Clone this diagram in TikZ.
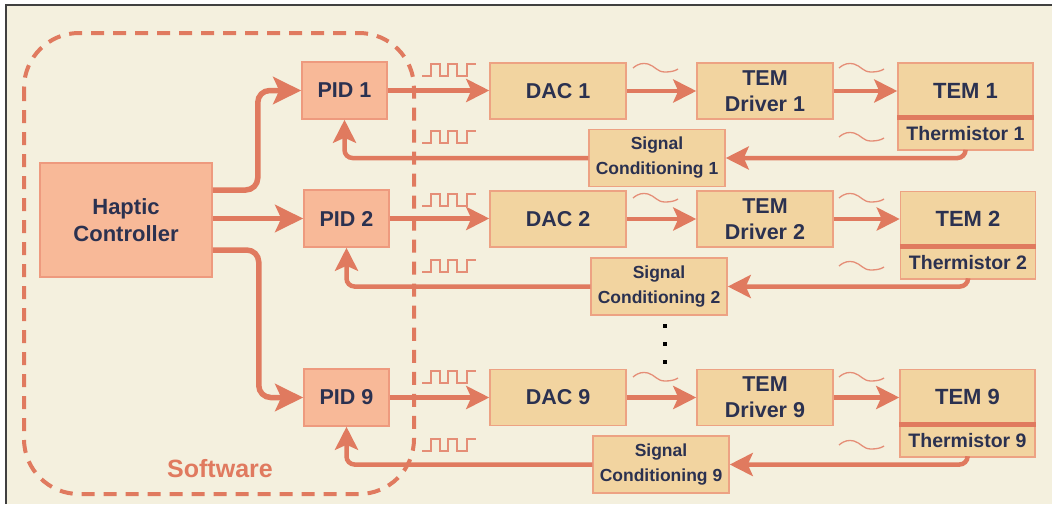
\documentclass[tikz,border=0pt]{standalone}
\usepackage{fontspec}
\setmainfont{Liberation Sans}
\usetikzlibrary{arrows.meta}
\definecolor{bgc}{HTML}{F4F0DE}
\definecolor{coral}{HTML}{E07A5F}
\definecolor{pidfill}{HTML}{F8B998}
\definecolor{pidline}{HTML}{EE9A7E}
\definecolor{tanfill}{HTML}{F2D4A0}
\definecolor{tanline}{HTML}{EDA283}
\definecolor{textc}{HTML}{2B3150}
\definecolor{framec}{HTML}{404040}
\begin{document}
\begin{tikzpicture}[x=1pt,y=-1pt,
  basebox/.style={line width=1.5pt, inner sep=0pt, text=textc, align=center},
  pidb/.style={basebox, draw=pidline, fill=pidfill, minimum width=85pt, minimum height=57pt,
    font=\fontsize{21.5}{26}\selectfont\bfseries},
  hcb/.style={basebox, draw=pidline, fill=pidfill, minimum width=172pt, minimum height=114pt,
    font=\fontsize{22}{26.5}\selectfont\bfseries},
  tanb/.style={basebox, draw=tanline, fill=tanfill, minimum width=136pt, minimum height=56pt,
    font=\fontsize{21.5}{26}\selectfont\bfseries},
  temb/.style={basebox, draw=tanline, fill=tanfill, minimum width=135pt, minimum height=55pt,
    font=\fontsize{22}{26}\selectfont\bfseries},
  thb/.style={basebox, draw=tanline, fill=tanfill, minimum width=135pt, minimum height=32pt,
    font=\fontsize{19.5}{22}\selectfont\bfseries},
  scb/.style={basebox, draw=tanline, fill=tanfill, minimum width=136pt, minimum height=57pt,
    font=\fontsize{17.5}{25}\selectfont\bfseries},
  harr/.style={draw=coral, line width=5.5pt, rounded corners=12pt,
    -{Stealth[length=28pt,width=27pt,inset=6pt]}},
  arr/.style={draw=coral, line width=4.5pt, rounded corners=8pt,
    -{Stealth[length=23pt,width=23pt,inset=5pt]}},
  divider/.style={draw=coral, line width=5pt},
  wave/.style={draw=coral!85, line width=1.3pt, line join=miter},
  sqw/.pic={\draw[wave] (0,0) -- (9,0) -- (9,-12) -- (18,-12) -- (18,0) -- (26,0) -- (26,-12)
    -- (35,-12) -- (35,0) -- (45,0) -- (45,-12) -- (54,-12);},
  tld/.pic={\draw[wave] (0,5) .. controls (6,0) and (10,0) .. (15,1)
    .. controls (22,3) and (24,9) .. (32,9) .. controls (38,9) and (42,8) .. (45,6);}
]
\useasboundingbox (0,0) rectangle (1052,504);
\fill[white] (0,0) rectangle (1052,504);
\fill[bgc] (6,5) rectangle (1052,504);
\draw[framec, line width=1.5pt] (6,504) -- (6,5) -- (1052,5);

% nodes
\node[hcb] (hc) at (126,220) {Haptic\\Controller};
\node[pidb] (pid1) at (344.5,90.5) {PID 1};
\node[pidb] (pid2) at (346.5,218.5) {PID 2};
\node[pidb] (pid9) at (346.5,397.5) {PID 9};

\node[tanb] (dac1) at (558,91) {DAC 1};
\node[tanb] (dac2) at (558,219) {DAC 2};
\node[tanb] (dac9) at (558,397.5) {DAC 9};

\node[tanb] (drv1) at (765,91) {TEM\\Driver 1};
\node[tanb] (drv2) at (765,219) {TEM\\Driver 2};
\node[tanb] (drv9) at (765,397.5) {TEM\\Driver 9};

\node[temb] (tem1) at (965.5,90.5) {TEM 1};
\node[thb] (th1) at (965.5,134) {Thermistor 1};
\node[temb] (tem2) at (968,219) {TEM 2};
\node[thb] (th2) at (968,263) {Thermistor 2};
\node[temb] (tem9) at (967.5,397) {TEM 9};
\node[thb] (th9) at (967.5,441) {Thermistor 9};
\draw[divider] (th1.north west) -- (th1.north east);
\draw[divider] (th2.north west) -- (th2.north east);
\draw[divider] (th9.north west) -- (th9.north east);

\node[scb] (sc1) at (657,158) {Signal\\Conditioning 1};
\node[scb] (sc2) at (659,286.5) {Signal\\Conditioning 2};
\node[scb] (sc9) at (661,464.5) {Signal\\Conditioning 9};

% haptic branches
\draw[harr] ([yshift=30pt]hc.east) -- ++(45,0) |- (pid1.west);
\draw[harr] (hc.east |- pid2.west) -- (pid2.west);
\draw[harr] ([yshift=-30pt]hc.east) -- ++(46,0) |- (pid9.west);

% forward chains and feedback
\foreach \i in {1,2,9}{
  \draw[arr] (pid\i.east) -- (pid\i.east -| dac\i.west);
  \draw[arr] (dac\i.east) -- (dac\i.east -| drv\i.west);
  \draw[arr] (drv\i.east) -- (drv\i.east -| tem\i.west);
  \draw[arr] (th\i.south) |- (sc\i.east);
  \draw[arr] (sc\i.west) -| (pid\i.south);
}

% software boundary (drawn over the connectors)
\draw[coral, line width=4pt, dash pattern=on 13pt off 9pt, rounded corners=55pt] (24,33) rectangle (414,494);
\node[text=coral, font=\fontsize{25}{28}\selectfont\bfseries] (sw) at (220,469) {Software};

% signal icons
\pic at (422,76) {sqw};
\pic at (422,143) {sqw};
\pic at (422,206) {sqw};
\pic at (422,272) {sqw};
\pic at (422,383) {sqw};
\pic at (422,451) {sqw};

\pic at (633,63) {tld};
\pic at (839,63) {tld};
\pic at (839,132) {tld};
\pic at (633,193) {tld};
\pic at (839,193) {tld};
\pic at (839,261) {tld};
\pic at (633,372) {tld};
\pic at (839,372) {tld};
\pic at (839,440) {tld};

% continuation dots
\fill[black] (663,324) rectangle (667,328);
\fill[black] (663,342) rectangle (667,346);
\fill[black] (663,360) rectangle (667,364);
\end{tikzpicture}
\end{document}
